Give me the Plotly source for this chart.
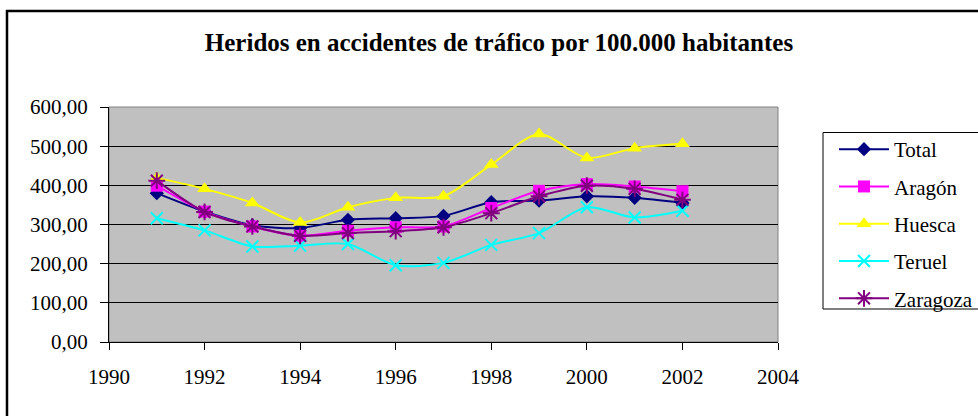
import plotly.graph_objects as go

years = [1991, 1992, 1993, 1994, 1995, 1996, 1997, 1998, 1999, 2000, 2001, 2002]
total = [380, 333, 298, 291, 312, 316, 322, 357, 361, 372, 368, 355]
aragon = [399, 333, 295, 271, 284, 293, 295, 342, 386, 403, 397, 385]
huesca = [419, 391, 355, 305, 344, 368, 372, 453, 531, 470, 495, 506]
teruel = [316, 285, 244, 246, 250, 196, 202, 248, 278, 344, 318, 335]
zaragoza = [412, 332, 295, 271, 278, 283, 293, 329, 372, 399, 391, 363]

series_names = ["Total", "Aragón", "Huesca", "Teruel", "Zaragoza"]
series_values = [total, aragon, huesca, teruel, zaragoza]
colors = ["#000080", "#FF00FF", "#FFFF00", "#00FFFF", "#800080"]
symbols = ["diamond", "square", "triangle-up", "x-thin-open", "asterisk-open"]
sizes = [11, 12, 13, 12, 14]

FONT = "Liberation Serif, Times New Roman, serif"
FS = 21

fig = go.Figure()
for name, vals, c, s, sz in zip(series_names, series_values, colors, symbols, sizes):
    marker = dict(color=c, symbol=s, size=sz)
    if s.endswith("open"):
        marker["line"] = dict(color=c, width=2)
    else:
        marker["line"] = dict(color=c, width=0)
    fig.add_trace(go.Scatter(
        x=years, y=vals, name=name, mode="lines+markers",
        line=dict(color=c, width=2, shape="spline", smoothing=0.8),
        marker=marker, legendgroup=name,
    ))

W, H = 978, 416
L, R, T, B = 109, 778, 107, 342
pw, ph = R - L, B - T

def px(x):
    return (x - L) / pw

def py(y):
    return (B - y) / ph

fig.update_layout(
    width=W, height=H,
    margin=dict(l=L, r=W - R, t=T, b=H - B, autoexpand=False),
    paper_bgcolor="white",
    plot_bgcolor="#C0C0C0",
    separators=",.",
    font=dict(family=FONT, size=FS, color="black"),
    title=dict(
        text="<b>Heridos en accidentes de tráfico por 100.000 habitantes</b>",
        x=px(499), xref="paper", xanchor="center",
        y=1 - 42 / H, yref="container", yanchor="middle",
        font=dict(family=FONT, size=25, color="black"),
    ),
    showlegend=True,
    legend=dict(
        x=px(834), y=py(129), xanchor="left", yanchor="top",
        bgcolor="rgba(0,0,0,0)", borderwidth=0,
        font=dict(family=FONT, size=FS, color="black"),
        tracegroupgap=7, itemwidth=50,
    ),
    xaxis=dict(
        range=[1990, 2004], dtick=2, tick0=1990,
        showgrid=False, zeroline=False,
        showline=True, linecolor="black", linewidth=1,
        ticks="outside", ticklen=7, tickcolor="black",
        tickfont=dict(family=FONT, size=FS, color="black"),
        tickformat="d", ticklabelstandoff=9,
    ),
    yaxis=dict(
        range=[0, 600], dtick=100,
        showgrid=True, gridcolor="black", gridwidth=1,
        zeroline=False,
        showline=True, linecolor="black", linewidth=1,
        ticks="outside", ticklen=8, tickcolor="black",
        tickformat=".2f", ticklabelstandoff=8,
        tickfont=dict(family=FONT, size=FS, color="black"),
    ),
    shapes=[
        dict(type="rect", xref="paper", yref="paper", x0=0, x1=1, y0=0, y1=1,
             line=dict(color="#808080", width=1), layer="below"),
        dict(type="rect", xref="paper", yref="paper",
             x0=px(823), x1=px(1000), y0=py(309), y1=py(132.5),
             line=dict(color="black", width=1), fillcolor="white", layer="above"),
        dict(type="rect", xref="paper", yref="paper",
             x0=px(7), x1=px(1000), y0=py(440), y1=py(11),
             line=dict(color="black", width=2.5)),
    ],
)

fig.write_html("out.html", config={"displayModeBar": False},
               post_script="document.body.style.margin='0';")
